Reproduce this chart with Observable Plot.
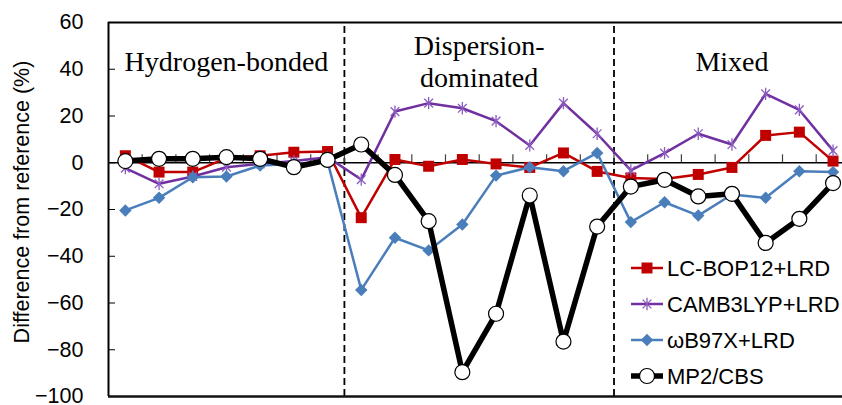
<!DOCTYPE html>
<html><head><meta charset="utf-8">
<script src="https://cdn.jsdelivr.net/npm/d3@7"></script>
<script src="https://cdn.jsdelivr.net/npm/@observablehq/plot@0.6"></script>
<style>
body{margin:0;background:#fff}
#chart{position:relative;width:842px;height:405px;overflow:hidden}
#legend{position:absolute;left:0;top:0}
</style></head><body><div id="chart"></div>
<script>
const categories = d3.range(1, 23);
const seriesNames = ["LC-BOP12+LRD", "CAMB3LYP+LRD", "ωB97X+LRD", "MP2/CBS"];
const lcbop = [3, -4, -4, 2, 3, 4.5, 4.8, -23.5, 1.4, -1.5, 1.4, -0.5, -2, 4.2, -3.7, -6.5, -7, -5, -2, 11.7, 13.1, 0.7];
const camb  = [-2.3, -9, -5.9, -1.9, -0.5, 0.7, 2.4, -7.2, 21.9, 25.5, 23.3, 17.8, 7.4, 25.5, 12.4, -3.3, 4.1, 12.4, 7.8, 29.5, 22.6, 5.2];
const wb97x = [-20.4, -15, -6.2, -5.9, -1.2, -0.5, 0.5, -54.4, -32.1, -37.5, -26.4, -5.5, -1.9, -3.6, 4.2, -25.4, -16.9, -22.6, -13.6, -15, -3.6, -4];
const mp2   = [0.7, 1.7, 1.7, 2.4, 1.7, -1.9, 1.2, 7.8, -5.2, -25, -89.6, -64.6, -14, -76.5, -27.3, -10.2, -7.3, -14.4, -13.3, -34.3, -24, -8.7];
const yTicks = [-100, -80, -60, -40, -20, 0, 20, 40, 60];
const yLabel = "Difference from reference (%)";
const sectionLabels = ["Hydrogen-bonded", "Dispersion-\ndominated", "Mixed"];
const sectionFirst = [1, 8, 16];
const sectionLast = [7, 15, 22];

const star = {draw(context, size) {
  const r = Math.sqrt(size) * 0.6, d = r * Math.SQRT1_2;
  context.moveTo(0, -r); context.lineTo(0, r);
  context.moveTo(-d, -d); context.lineTo(d, d);
  context.moveTo(-d, d); context.lineTo(d, -d);
}};

const styles = [
  {data: lcbop, color: "#C00000", width: 2.5, symbol: "square", r: 6.2, fill: "#C00000", stroke: "none", sw: 0},
  {data: camb, color: "#7030A0", width: 2.5, symbol: star, r: 5.8, fill: "none", stroke: "#8A5CC0", sw: 1.3},
  {data: wb97x, color: "#4A7EBB", width: 2.5, symbol: "diamond2", r: 5.6, fill: "#4A7EBB", stroke: "none", sw: 0},
  {data: mp2, color: "#000000", width: 5.5, symbol: "circle", r: 7.5, fill: "#ffffff", stroke: "#000000", sw: 1.2}
];

const seriesMarks = styles.flatMap((s, k) => {
  const rows = categories.map((c, i) => ({x: c, y: s.data[i], name: seriesNames[k]}));
  return [
    Plot.line(rows, {x: "x", y: "y", stroke: s.color, strokeWidth: s.width, strokeLinejoin: "round"}),
    Plot.dot(rows, {x: "x", y: "y", symbol: s.symbol, r: s.r, fill: s.fill, stroke: s.stroke, strokeWidth: s.sw})
  ];
});

const sections = sectionLabels.map((t, i) => ({label: t, x: (sectionFirst[i] + sectionLast[i]) / 2}));
const dividers = sectionLast.slice(0, 2).map(v => v + 0.5);
const bounds = d3.range(1.5, 22, 1);

const chart = Plot.plot({
  width: 842, height: 405,
  marginLeft: 108, marginRight: 0, marginTop: 22, marginBottom: 9,
  x: {domain: [0.5, 22.5], range: [108, 849.4], axis: null},
  y: {domain: [-100, 60], axis: null},
  style: {fontFamily: "'Liberation Sans', Arial, sans-serif", background: "white", color: "black"},
  marks: [
    Plot.ruleX(dividers, {y1: -100, y2: 60, stroke: "black", strokeWidth: 1.8, strokeDasharray: "7,4"}),
    Plot.ruleY([0], {stroke: "black", strokeWidth: 1.5}),
    Plot.ruleX(bounds, {y1: 0, y2: 3.4, stroke: "#404040", strokeWidth: 1.2}),
    Plot.ruleY(yTicks, {x1: 0.5, x2: 0.5 + 7 / 33.7, stroke: "black", strokeWidth: 1}),
    Plot.axisY({ticks: yTicks, tickSize: 0, tickPadding: 25, fontSize: 21.5, label: null}),
    Plot.text(sections, {x: "x", text: "label", frameAnchor: "top", dy: 38, lineAnchor: "middle", lineHeight: 1.14, fontSize: 28, fontFamily: "'Liberation Serif', 'Times New Roman', serif", fill: "black"}),
    ...seriesMarks,
    Plot.ruleX([0.5], {stroke: "black", strokeWidth: 2}),
    Plot.ruleY([60], {stroke: "black", strokeWidth: 2}),
    Plot.ruleY([-100], {stroke: "#111", strokeWidth: 2.6})
  ]
});
const host = document.getElementById("chart");
host.appendChild(chart);

// overlay: y-axis title and legend
const lg = d3.select(host).append("svg").attr("id", "legend").attr("width", 842).attr("height", 405);
lg.append("text").attr("transform", "translate(22,202) rotate(-90)")
  .attr("text-anchor", "middle").attr("dominant-baseline", "central")
  .attr("font-family", "'Liberation Sans', Arial, sans-serif").attr("font-size", 21.5).attr("fill", "black")
  .text(yLabel);

const rowY = [268, 304, 340, 376];
styles.forEach((s, k) => {
  const g = lg.append("g").attr("transform", `translate(0,${rowY[k]})`);
  g.append("line").attr("x1", 631).attr("x2", 663).attr("stroke", s.color).attr("stroke-width", s.width);
  const sym = s.symbol === "circle" ? null : (typeof s.symbol === "string" ? (s.symbol === "square" ? d3.symbolSquare : d3.symbolDiamond2) : s.symbol);
  if (sym) {
    g.append("path").attr("transform", "translate(647,0)").attr("d", d3.symbol(sym, Math.PI * s.r * s.r)())
      .attr("fill", s.fill).attr("stroke", s.stroke).attr("stroke-width", s.sw);
  } else {
    g.append("circle").attr("cx", 647).attr("r", s.r).attr("fill", s.fill).attr("stroke", s.stroke).attr("stroke-width", s.sw);
  }
  g.append("text").attr("x", 667).attr("y", 8).text(seriesNames[k])
    .attr("font-family", "'Liberation Sans', Arial, sans-serif").attr("font-size", 22).attr("fill", "black");
});
</script></body></html>
